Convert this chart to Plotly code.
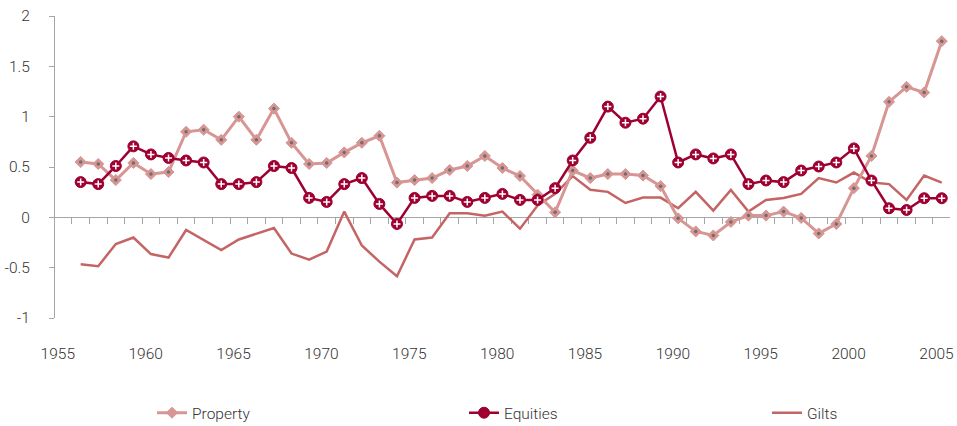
import plotly.graph_objects as go

years = list(range(1956, 2006))

property_vals = [0.55, 0.53, 0.37, 0.54, 0.43, 0.45, 0.85, 0.87, 0.77, 1.00,
                 0.77, 1.08, 0.74, 0.53, 0.54, 0.645, 0.74, 0.81, 0.345, 0.37,
                 0.39, 0.47, 0.51, 0.61, 0.49, 0.41, 0.225, 0.05, 0.465, 0.39,
                 0.43, 0.43, 0.415, 0.31, -0.01, -0.14, -0.18, -0.046, 0.017, 0.017,
                 0.057, -0.006, -0.16, -0.066, 0.29, 0.61, 1.147, 1.296, 1.24, 1.75]

equities_vals = [0.35, 0.33, 0.51, 0.705, 0.625, 0.59, 0.565, 0.545, 0.33, 0.33,
                 0.35, 0.51, 0.49, 0.193, 0.153, 0.33, 0.39, 0.133, -0.066, 0.193,
                 0.213, 0.213, 0.153, 0.193, 0.233, 0.173, 0.173, 0.29, 0.565, 0.79,
                 1.10, 0.94, 0.98, 1.20, 0.545, 0.625, 0.585, 0.625, 0.33, 0.366,
                 0.35, 0.465, 0.505, 0.545, 0.685, 0.366, 0.09, 0.073, 0.19, 0.19]

gilts_vals = [-0.465, -0.485, -0.265, -0.20, -0.365, -0.40, -0.126, -0.225, -0.325, -0.22,
              -0.163, -0.106, -0.36, -0.42, -0.34, 0.057, -0.28, -0.44, -0.585, -0.22,
              -0.20, 0.04, 0.04, 0.017, 0.057, -0.113, 0.117, 0.233, 0.41, 0.273,
              0.253, 0.143, 0.196, 0.196, 0.09, 0.253, 0.067, 0.273, 0.057, 0.173,
              0.193, 0.233, 0.39, 0.346, 0.445, 0.346, 0.33, 0.173, 0.415, 0.345]

x_label_years = [1955, 1960, 1965, 1970, 1975, 1980, 1985, 1990, 1995, 2000, 2005]
y_ticks = [-1, -0.5, 0, 0.5, 1, 1.5, 2]
y_tick_text = ["-1", "-0.5", "0", "0.5", "1", "1.5", "2"]

C_PROP = "#D79593"
C_EQ = "#9E0031"
C_GILT = "#C46464"
AXIS = "#A6A6A6"
TXT = "#333333"
FONT = "Roboto, Liberation Sans, sans-serif"
FS = 15.5

fig = go.Figure()

fig.add_trace(go.Scatter(
    x=years, y=gilts_vals, name="Gilts", mode="lines", legend="legend3",
    line=dict(color=C_GILT, width=2.5), xaxis="x", yaxis="y"))

fig.add_trace(go.Scatter(
    x=years, y=property_vals, name="Property", mode="lines+markers", legend="legend",
    line=dict(color=C_PROP, width=3),
    marker=dict(symbol="diamond", size=8.5, color=C_PROP,
                line=dict(color=C_PROP, width=1)),
    xaxis="x", yaxis="y"))
fig.add_trace(go.Scatter(
    x=years, y=property_vals, mode="markers", showlegend=False, hoverinfo="skip",
    marker=dict(symbol="circle", size=3.5, color="#6E6E6E"),
    xaxis="x", yaxis="y"))

fig.add_trace(go.Scatter(
    x=years, y=equities_vals, name="Equities", mode="lines+markers", legend="legend2",
    line=dict(color=C_EQ, width=2.5),
    marker=dict(symbol="circle", size=11, color=C_EQ,
                line=dict(color=C_EQ, width=1)),
    xaxis="x2", yaxis="y"))
fig.add_trace(go.Scatter(
    x=years, y=equities_vals, mode="markers", showlegend=False, hoverinfo="skip",
    marker=dict(symbol="cross-thin", size=5, color="white",
                line=dict(color="white", width=1.5)),
    xaxis="x2", yaxis="y"))

xr = [1954.54, 2005.47]
leg_common = dict(orientation="h", xanchor="left", y=-0.315, yanchor="middle",
                  font=dict(family=FONT, size=FS, color=TXT, weight=300),
                  bgcolor="rgba(0,0,0,0)")

fig.update_layout(
    width=957, height=426,
    margin=dict(l=55, r=7, t=16, b=108, autoexpand=False),
    paper_bgcolor="white", plot_bgcolor="white",
    font=dict(family=FONT, size=FS, color=TXT, weight=300),
    showlegend=True,
    legend=dict(x=0.1084, **leg_common),
    legend2=dict(x=0.457, **leg_common),
    legend3=dict(x=0.7955, **leg_common),
    xaxis=dict(range=xr, showline=False, showgrid=False, zeroline=False,
               automargin=False, ticks="", tickvals=[y - 0.3 for y in x_label_years],
               ticktext=[str(y) for y in x_label_years], ticklabeloverflow="allow",
               ticklabelstandoff=24,
               tickfont=dict(family=FONT, size=FS, color=TXT, weight=300)),
    xaxis2=dict(range=xr, overlaying="x", anchor="free", position=1/3,
                automargin=False, showline=True, linecolor=AXIS, linewidth=1,
                ticks="outside", ticklen=6, tickcolor=AXIS, tickwidth=1,
                tick0=1955.5, dtick=1, showticklabels=False,
                showgrid=False, zeroline=False, layer="below traces"),
    yaxis=dict(range=[-1, 2], tickvals=y_ticks, ticktext=y_tick_text,
               automargin=False, showline=True, linecolor=AXIS, linewidth=1,
               ticks="outside", ticklen=5, tickcolor=AXIS, ticklabeloverflow="allow",
               showgrid=False, zeroline=False, ticklabelstandoff=16,
               tickfont=dict(family=FONT, size=FS, color=TXT, weight=300)),
)

fig.write_html("out.html", config={"displayModeBar": False},
               post_script="document.body.style.margin='0';")
